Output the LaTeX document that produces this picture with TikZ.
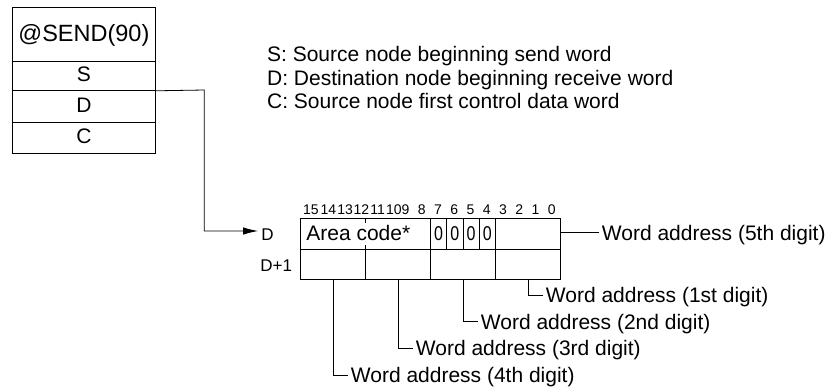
\documentclass[tikz,border=0pt]{standalone}
\usepackage{fontspec}
\setmainfont{Liberation Sans}
\newfontfamily\bitfont[FakeStretch=0.8]{Liberation Sans}
\usetikzlibrary{arrows.meta}
\begin{document}
\begin{tikzpicture}[x=1pt,y=-1pt,line width=0.8pt,
  cell/.style={draw,inner sep=0pt,anchor=north west},
  rowtext/.style={font=\fontsize{21}{25}\selectfont,text height=15pt,text depth=3pt},
  note/.style={anchor=base west,inner sep=0pt,font=\fontsize{21}{25}\selectfont},
  lab/.style={anchor=west,inner xsep=3pt,inner ysep=0pt,font=\fontsize{21}{25}\selectfont,text height=15pt,text depth=0pt},
  bitlab/.style={anchor=base,inner sep=0pt,font=\fontsize{14}{16}\selectfont},
  zero/.style={cell,minimum width=16.25pt,minimum height=31.3pt,font=\bitfont\fontsize{20}{24}\selectfont,text height=14.3pt,text depth=0pt},
  reglab/.style={anchor=west,inner sep=0pt,font=\fontsize{17}{20}\selectfont,text height=12.3pt,text depth=0pt},
  arrowline/.style={-{Latex[length=15pt,width=7.5pt]}}]
\useasboundingbox (0,0) rectangle (832,388);

% instruction box
\node[cell,minimum width=143pt,minimum height=54pt,font=\fontsize{23.5}{28}\selectfont,text height=17pt,text depth=3pt] (title) at (12,7) {@SEND(90)};
\node[cell,rowtext,minimum width=143pt,minimum height=29pt] (srow) at (12,61) {S};
\node[cell,rowtext,minimum width=143pt,minimum height=32pt] (drow) at (12,90) {D};
\node[cell,rowtext,minimum width=143pt,minimum height=30.7pt] (crow) at (12,122) {C};

% notes
\node[note] (n1) at (266.7,61) {S: Source node beginning send word};
\node[note] (n2) at (266.7,85) {D: Destination node beginning receive word};
\node[note] (n3) at (266.7,108.5) {C: Source node first control data word};

% bit numbers
\foreach \i/\dx in {0/0,1/0,2/0,3/0,4/0,5/0,6/0,7/0,8/0,9/0,10/4.5,11/4.5,12/4.5,13/4.5,14/4,15/2.8}
  \node[bitlab] (b\i) at ({300+(15-\i)*16.25+8.125+\dx},214.5) {\i};

% register row 1
\node[cell,minimum width=130pt,minimum height=31.3pt] (area) at (300,217.7) {};
\node[anchor=west,inner sep=0pt,font=\fontsize{21}{25}\selectfont,text height=15pt,text depth=0pt] (areatxt) at (306,233.3) {Area code*};
\draw (area.north west) ++(65,0) -- ++(0,5.5);
\draw (area.south west) ++(65,0) -- ++(0,-5);
\node[zero] (z1) at (430,217.7) {0};
\node[zero] (z2) at (446.25,217.7) {0};
\node[zero] (z3) at (462.5,217.7) {0};
\node[zero] (z4) at (478.75,217.7) {0};
\node[cell,minimum width=65pt,minimum height=31.3pt] (r1c4) at (495,217.7) {};

% register row 2
\node[cell,minimum width=65pt,minimum height=30.3pt] (r2c1) at (300,249) {};
\node[cell,minimum width=65pt,minimum height=30.3pt] (r2c2) at (365,249) {};
\node[cell,minimum width=65pt,minimum height=30.3pt] (r2c3) at (430,249) {};
\node[cell,minimum width=65pt,minimum height=30.3pt] (r2c4) at (495,249) {};

% register labels
\node[reglab] (dlab) at (261,234) {D};
\node[reglab] (d1lab) at (260,265.5) {D+1};

% connector from instruction to D
\coordinate (bend1) at (204.3,90);
\coordinate (bend2) at (204.3,231);
\coordinate (dtip) at (258,231);
\draw[arrowline] (srow.south east) -- (bend1) -- (bend2) -- (dtip);

% digit labels
\node[lab] (l5) at (598.5,232.5) {Word address (5th digit)};
\node[lab] (l1) at (542.5,295) {Word address (1st digit)};
\node[lab] (l2) at (477.5,321.7) {Word address (2nd digit)};
\node[lab] (l3) at (412.5,348.3) {Word address (3rd digit)};
\node[lab] (l4) at (347.5,375) {Word address (4th digit)};

\draw (r1c4.east |- l5.west) -- (l5.west);
\draw (r2c4.south) |- (l1.west);
\draw (r2c3.south) |- (l2.west);
\draw (r2c2.south) |- (l3.west);
\draw (r2c1.south) |- (l4.west);
\end{tikzpicture}
\end{document}
